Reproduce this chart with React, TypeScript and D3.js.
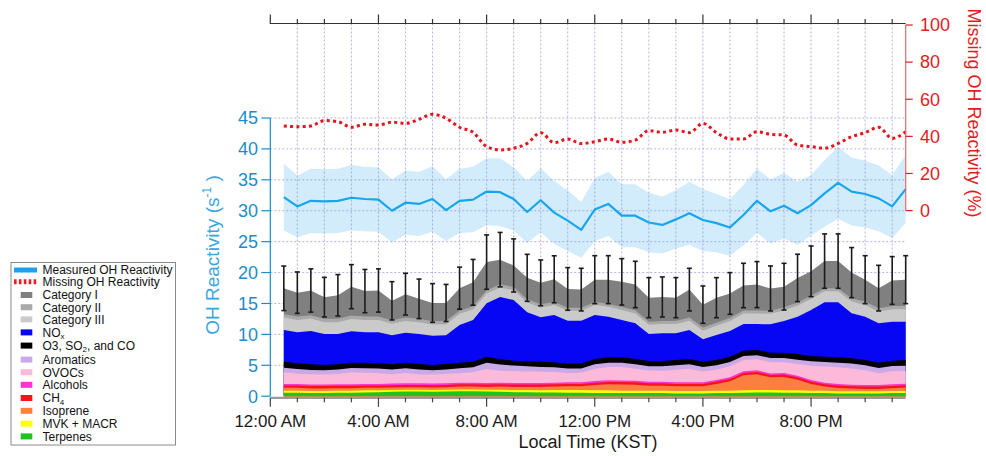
import React from "react";
import * as d3 from "d3";

// Half-hourly diurnal means (local time, hours)
const hours = [0.5, 1, 1.5, 2, 2.5, 3, 3.5, 4, 4.5, 5, 5.5, 6, 6.5, 7, 7.5, 8, 8.5, 9, 9.5, 10, 10.5, 11, 11.5, 12, 12.5, 13, 13.5, 14, 14.5, 15, 15.5, 16, 16.5, 17, 17.5, 18, 18.5, 19, 19.5, 20, 20.5, 21, 21.5, 22, 22.5, 23, 23.5];

// Measured OH reactivity (s^-1) and its spread
const measured = [32.2, 30.7, 31.6, 31.5, 31.6, 32.1, 31.9, 31.8, 30.0, 31.3, 31.1, 31.9, 30.1, 31.6, 31.8, 33.1, 33.0, 31.9, 29.8, 31.7, 29.7, 28.4, 26.9, 30.2, 31.1, 29.2, 29.2, 28.1, 27.7, 28.6, 29.6, 28.5, 28.0, 27.3, 29.3, 31.6, 29.9, 30.8, 29.6, 30.9, 32.8, 34.5, 33.1, 32.7, 32.0, 30.7, 33.5];
const measuredSd = [5.4, 5.0, 5.2, 5.2, 5.2, 5.3, 5.2, 5.2, 5.1, 5.2, 5.2, 5.3, 5.0, 5.2, 5.3, 5.4, 5.5, 5.1, 5.0, 5.2, 5.1, 4.9, 4.5, 5.1, 5.2, 5.1, 5.1, 4.8, 4.6, 4.7, 5.1, 5.0, 4.7, 4.6, 4.9, 5.2, 5.2, 5.3, 5.1, 4.9, 5.4, 5.8, 5.5, 5.4, 5.3, 5.1, 5.5];

// Missing OH reactivity (%)
const missing = [45.6, 45.2, 45.6, 48.5, 47.9, 44.9, 46.5, 46.1, 47.6, 47.0, 49.2, 51.9, 49.7, 44.9, 42.2, 34.5, 32.7, 33.6, 36.2, 42.0, 36.6, 38.6, 36.1, 37.1, 38.6, 36.8, 38.0, 43.1, 42.2, 43.4, 42.0, 47.0, 42.0, 38.6, 38.6, 42.5, 41.1, 40.7, 35.3, 34.5, 33.6, 36.2, 39.8, 42.0, 44.9, 38.9, 42.5];

// Calculated OH reactivity contributions (s^-1)
const terpenes = [0.55, 0.55, 0.5, 0.5, 0.55, 0.55, 0.6, 0.65, 0.7, 0.75, 0.75, 0.7, 0.75, 0.8, 0.8, 0.75, 0.7, 0.65, 0.65, 0.6, 0.6, 0.55, 0.55, 0.5, 0.5, 0.5, 0.5, 0.5, 0.5, 0.45, 0.45, 0.45, 0.5, 0.5, 0.55, 0.6, 0.6, 0.55, 0.55, 0.5, 0.5, 0.45, 0.45, 0.45, 0.45, 0.5, 0.5];
const mvkMacr = [0.35, 0.35, 0.35, 0.35, 0.35, 0.35, 0.35, 0.3, 0.3, 0.3, 0.3, 0.3, 0.3, 0.3, 0.3, 0.3, 0.35, 0.35, 0.35, 0.35, 0.4, 0.45, 0.45, 0.45, 0.45, 0.4, 0.4, 0.4, 0.4, 0.4, 0.4, 0.4, 0.4, 0.4, 0.4, 0.4, 0.4, 0.4, 0.4, 0.4, 0.4, 0.35, 0.35, 0.35, 0.35, 0.35, 0.35];
const isoprene = [0.45, 0.45, 0.4, 0.4, 0.4, 0.4, 0.4, 0.4, 0.4, 0.4, 0.4, 0.4, 0.4, 0.45, 0.45, 0.45, 0.5, 0.5, 0.5, 0.55, 0.55, 0.6, 0.6, 0.85, 0.97, 1.0, 0.97, 0.81, 0.81, 0.76, 0.76, 0.76, 1.08, 1.51, 2.43, 2.54, 2.05, 2.16, 1.73, 1.08, 0.65, 0.54, 0.43, 0.38, 0.38, 0.43, 0.54];
const ch4 = [0.38, 0.38, 0.38, 0.38, 0.38, 0.38, 0.38, 0.38, 0.38, 0.38, 0.38, 0.38, 0.38, 0.38, 0.38, 0.38, 0.38, 0.38, 0.38, 0.38, 0.38, 0.38, 0.38, 0.38, 0.38, 0.38, 0.38, 0.38, 0.38, 0.38, 0.38, 0.38, 0.38, 0.38, 0.38, 0.38, 0.38, 0.38, 0.38, 0.38, 0.38, 0.38, 0.38, 0.38, 0.38, 0.38, 0.38];
const alcohols = [0.26, 0.26, 0.26, 0.26, 0.26, 0.26, 0.26, 0.26, 0.26, 0.26, 0.26, 0.26, 0.26, 0.26, 0.26, 0.26, 0.26, 0.26, 0.26, 0.26, 0.26, 0.26, 0.26, 0.26, 0.26, 0.26, 0.26, 0.26, 0.26, 0.26, 0.26, 0.26, 0.26, 0.26, 0.26, 0.26, 0.26, 0.26, 0.26, 0.26, 0.26, 0.26, 0.26, 0.26, 0.26, 0.26, 0.26];
const ovocs = [1.88, 1.66, 1.65, 1.61, 1.67, 1.92, 1.82, 1.73, 1.52, 1.67, 1.44, 1.46, 1.49, 1.52, 1.7, 2.24, 1.93, 1.91, 1.85, 1.8, 1.71, 1.51, 1.54, 2.02, 2.17, 2.19, 1.95, 1.79, 1.77, 2.03, 2.19, 1.76, 1.66, 1.79, 1.84, 1.79, 1.81, 1.73, 1.89, 2.3, 2.6, 2.7, 2.62, 2.38, 1.89, 2.11, 2.05];
const aromatics = [0.75, 0.75, 0.7, 0.7, 0.7, 0.72, 0.7, 0.75, 0.75, 0.75, 0.8, 0.7, 0.75, 0.8, 0.78, 1.05, 1.0, 0.9, 0.85, 0.8, 0.78, 0.75, 0.72, 0.7, 0.7, 0.7, 0.7, 0.7, 0.72, 0.72, 0.72, 0.72, 0.72, 0.7, 0.65, 0.65, 0.68, 0.7, 0.7, 0.72, 0.75, 0.75, 0.78, 0.8, 0.86, 0.86, 0.86];
const o3So2Co = [0.97, 0.92, 0.92, 0.85, 0.85, 0.85, 0.92, 0.85, 0.85, 0.92, 0.88, 0.85, 0.88, 0.92, 0.92, 0.97, 0.85, 0.8, 0.8, 0.85, 0.8, 0.75, 0.8, 0.86, 0.86, 0.86, 0.86, 0.86, 0.86, 0.86, 0.86, 0.86, 0.86, 0.86, 0.86, 0.86, 0.86, 0.86, 0.92, 0.86, 0.86, 0.86, 0.86, 0.86, 0.86, 0.86, 0.92];
const nox = [5.12, 5.01, 5.39, 5.01, 4.9, 5.07, 4.9, 5.01, 4.69, 4.85, 4.85, 4.74, 4.64, 6.09, 6.74, 8.62, 10.08, 9.81, 7.93, 7.17, 7.66, 6.97, 6.92, 7.12, 6.58, 6.04, 5.77, 4.36, 4.47, 4.31, 4.69, 3.61, 4.04, 4.15, 4.31, 4.2, 4.58, 5.13, 6.04, 7.44, 8.78, 8.89, 7.28, 7.01, 6.36, 6.31, 6.2];
const cat3 = [2.0, 2.0, 2.0, 1.9, 1.9, 2.0, 2.0, 2.0, 1.9, 1.9, 1.9, 1.8, 1.8, 1.8, 1.7, 1.6, 1.55, 1.6, 1.6, 1.6, 1.6, 1.6, 1.6, 1.6, 1.6, 1.6, 1.6, 1.5, 1.5, 1.5, 1.5, 1.4, 1.5, 1.6, 1.7, 1.7, 1.7, 1.7, 1.8, 1.8, 1.8, 1.8, 1.9, 1.9, 1.9, 2.0, 2.0];
const cat2 = [0.55, 0.55, 0.55, 0.55, 0.55, 0.55, 0.55, 0.55, 0.55, 0.55, 0.55, 0.55, 0.55, 0.5, 0.5, 0.5, 0.5, 0.5, 0.5, 0.5, 0.5, 0.5, 0.5, 0.5, 0.5, 0.5, 0.5, 0.5, 0.5, 0.5, 0.5, 0.5, 0.5, 0.5, 0.5, 0.5, 0.5, 0.5, 0.5, 0.5, 0.5, 0.5, 0.55, 0.55, 0.55, 0.55, 0.55];
const cat1 = [4.19, 3.87, 4.0, 3.51, 3.81, 4.67, 4.12, 4.22, 3.13, 3.78, 3.24, 2.94, 2.88, 3.66, 3.89, 4.57, 3.99, 3.49, 3.48, 3.48, 3.67, 3.03, 2.92, 3.61, 3.88, 4.07, 4.18, 3.88, 3.88, 3.77, 4.53, 3.71, 4.04, 3.97, 4.03, 4.17, 3.61, 3.35, 3.96, 3.96, 4.37, 4.37, 4.13, 3.53, 3.24, 4.11, 4.24];
// Uncertainty of the calculated total (s^-1)
const calcError = [3.6, 3.35, 3.5, 3.2, 3.35, 3.56, 3.5, 3.5, 3.1, 3.37, 3.2, 3.13, 3.0, 3.4, 3.7, 4.4, 4.4, 4.3, 3.8, 3.7, 3.8, 3.45, 3.45, 3.88, 3.88, 3.75, 3.75, 3.24, 3.24, 3.24, 3.45, 3.02, 3.24, 3.37, 3.59, 3.72, 3.64, 3.78, 3.83, 4.1, 4.4, 4.4, 4.05, 3.88, 3.69, 3.86, 3.88];

// Axis ticks
const xTickHours = [0, 4, 8, 12, 16, 20];
const xTickLabels = ["12:00 AM", "4:00 AM", "8:00 AM", "12:00 PM", "4:00 PM", "8:00 PM"];
const leftTicks = [0, 5, 10, 15, 20, 25, 30, 35, 40, 45];
const rightTicks = [0, 20, 40, 60, 80, 100];

// Stack layers, bottom to top
const layerKeys = ["terpenes", "mvk", "isoprene", "ch4", "alcohols", "ovocs", "aromatics", "o3", "nox", "cat3", "cat2", "cat1"];
const layerValues: Record<string, number[]> = {
  terpenes, mvk: mvkMacr, isoprene, ch4, alcohols, ovocs, aromatics, o3: o3So2Co, nox, cat3, cat2, cat1,
};
const layerColors: Record<string, string> = {
  terpenes: "#1fc21f",
  mvk: "#ffff0a",
  isoprene: "#fb8040",
  ch4: "#f5141c",
  alcohols: "#ff34cf",
  ovocs: "#fdb9d9",
  aromatics: "#c9a9e6",
  o3: "#000000",
  nox: "#0606f4",
  cat3: "#cacaca",
  cat2: "#a9a9a9",
  cat1: "#808080",
};

const FONT = "'Liberation Sans', Arial, Helvetica, sans-serif";
const BLUE_AXIS = "#1b8dcc";
const RED_AXIS = "#e31b23";

// legend row centres; rows after subscripted labels sit a little lower
const legendRowY = [270, 281.8, 295, 307.2, 319.4, 332.4, 345.6, 359.6, 372.2, 384.8, 398, 410.8, 423.6, 436.4];

export default function App() {
  const x = d3.scaleLinear().domain([0, 23.5]).range([270.3, 905.7]);
  const yL = d3.scaleLinear().domain([0, 45]).range([396.2, 118]);
  const yR = d3.scaleLinear().domain([0, 100]).range([210.6, 25]);

  const rows = hours.map((h, i) => {
    const r: any = { h };
    layerKeys.forEach((k) => (r[k] = layerValues[k][i]));
    return r;
  });
  const series = d3.stack<any>().keys(layerKeys)(rows);

  // each layer filled from zero up to its cumulative top, drawn top layer first
  const cumArea = d3
    .area<any>()
    .x((d) => x(d.data.h))
    .y0(yL(0))
    .y1((d) => yL(d[1]));

  const totals = series[series.length - 1].map((d) => d[1]);

  const band = d3
    .area<number>()
    .x((_, i) => x(hours[i]))
    .y0((d, i) => yL(d - measuredSd[i]))
    .y1((d, i) => yL(d + measuredSd[i]));
  const measLine = d3
    .line<number>()
    .x((_, i) => x(hours[i]))
    .y((d) => yL(d));
  const missLine = d3
    .line<number>()
    .x((_, i) => x(hours[i]))
    .y((d) => yR(d))
    .curve(d3.curveMonotoneX);

  const hourTicks = d3.range(0, 24);
  const topY = 23.5;
  const bottomY = 397.8;

  const legendItems = [
    { kind: "line", color: "#1e9ff0", label: ["Measured OH Reactivity"] },
    { kind: "dash", color: "#ee1c24", label: ["Missing OH Reactivity"] },
    { kind: "box", color: layerColors.cat1, label: ["Category I"] },
    { kind: "box", color: layerColors.cat2, label: ["Category II"] },
    { kind: "box", color: layerColors.cat3, label: ["Category III"] },
    { kind: "box", color: layerColors.nox, label: ["NO", "x"] },
    { kind: "box", color: layerColors.o3, label: ["O3, SO", "2", ", and CO"] },
    { kind: "box", color: layerColors.aromatics, label: ["Aromatics"] },
    { kind: "box", color: layerColors.ovocs, label: ["OVOCs"] },
    { kind: "box", color: layerColors.alcohols, label: ["Alcohols"] },
    { kind: "box", color: layerColors.ch4, label: ["CH", "4"] },
    { kind: "box", color: layerColors.isoprene, label: ["Isoprene"] },
    { kind: "box", color: layerColors.mvk, label: ["MVK + MACR"] },
    { kind: "box", color: layerColors.terpenes, label: ["Terpenes"] },
  ];

  // alternate parts of a label are set as subscripts
  const renderLabel = (parts: string[]) =>
    parts.map((p, j) =>
      j % 2 === 1 ? (
        <tspan key={j} fontSize="8" dy="2.5">
          {p}
        </tspan>
      ) : j > 0 ? (
        <tspan key={j} dy="-2.5">
          {p}
        </tspan>
      ) : (
        <tspan key={j}>{p}</tspan>
      )
    );

  return (
    <svg
      width={986}
      height={456}
      viewBox="0 0 986 456"
      style={{ position: "absolute", left: 0, top: 0, background: "#fff" }}
      fontFamily={FONT}
    >
      <rect x={0} y={0} width={986} height={456} fill="#fff" />

      {/* measured reactivity spread */}
      <path d={band(measured) || ""} fill="#d3ecfb" />

      {/* grid */}
      <g stroke="#8e8ed2" strokeWidth={0.9} strokeDasharray="2 2" opacity={0.75}>
        {hourTicks.slice(1).map((h) => (
          <line key={"v" + h} x1={x(h)} x2={x(h)} y1={topY} y2={bottomY} />
        ))}
        {leftTicks.slice(1).map((v) => (
          <line key={"h" + v} x1={x(0)} x2={x(23.5)} y1={yL(v)} y2={yL(v)} />
        ))}
      </g>

      {/* bottom axis line */}
      <line x1={x(0)} x2={x(23.5)} y1={bottomY} y2={bottomY} stroke="#9a9a9a" strokeWidth={2.2} />

      {/* calculated reactivity stack */}
      {series
        .slice()
        .reverse()
        .map((s) => (
          <path key={s.key} d={cumArea(s as any) || ""} fill={layerColors[s.key]} />
        ))}

      {/* error bars on calculated total */}
      <g stroke="#1b1b1b" strokeWidth={1.6}>
        {hours.map((h, i) => {
          const cx = x(h);
          const y1 = yL(totals[i] + calcError[i]);
          const y2 = yL(totals[i] - calcError[i]);
          return (
            <g key={"e" + i}>
              <line x1={cx} x2={cx} y1={y1} y2={y2} />
              <line x1={cx - 2.5} x2={cx + 2.5} y1={y1} y2={y1} />
              <line x1={cx - 2.5} x2={cx + 2.5} y1={y2} y2={y2} />
            </g>
          );
        })}
      </g>

      {/* measured and missing reactivity */}
      <path d={measLine(measured) || ""} fill="none" stroke="#17a6ee" strokeWidth={2.2} strokeLinejoin="round" />
      <path d={missLine(missing) || ""} fill="none" stroke="#e8141c" strokeWidth={3} strokeDasharray="3 3.3" />

      {/* top axis */}
      <g stroke="#333" strokeWidth={1.2}>
        <line x1={x(0) - 0.5} x2={x(23.5)} y1={topY} y2={topY} />
        {hourTicks.map((h) => (
          <line key={"t" + h} x1={x(h)} x2={x(h)} y1={topY} y2={topY - (h % 4 === 0 ? 9 : 4.5)} />
        ))}
      </g>

      {/* bottom axis ticks and labels */}
      <g stroke="#444" strokeWidth={1.2}>
        {hourTicks.map((h) => (
          <line key={"b" + h} x1={x(h)} x2={x(h)} y1={bottomY} y2={bottomY + (h % 4 === 0 ? 9 : 4.5)} />
        ))}
      </g>
      {xTickHours.map((h, i) => (
        <text key={"xl" + h} x={x(h)} y={427} textAnchor="middle" fontSize={17} fill="#1a1a1a">
          {xTickLabels[i]}
        </text>
      ))}
      <text x={(x(0) + x(23.5)) / 2} y={448} textAnchor="middle" fontSize={18} fill="#1a1a1a">
        Local Time (KST)
      </text>

      {/* left axis */}
      <line x1={x(0)} x2={x(0)} y1={yL(45)} y2={yL(0)} stroke={BLUE_AXIS} strokeWidth={1.2} />
      {leftTicks.map((v) => (
        <g key={"l" + v}>
          <line x1={x(0) - 9} x2={x(0)} y1={yL(v)} y2={yL(v)} stroke={BLUE_AXIS} strokeWidth={1.2} />
          <text x={258} y={yL(v) + 6.3} textAnchor="end" fontSize={18} fill={BLUE_AXIS}>
            {v}
          </text>
        </g>
      ))}
      <text transform="translate(219,255) rotate(-90)" textAnchor="middle" fontSize={19} fill="#3aa6dd">
        <tspan>OH Reactivity (s</tspan>
        <tspan fontSize={12} dy={-8}>-1</tspan>
        <tspan dy={8}> )</tspan>
      </text>

      {/* right axis */}
      <line x1={x(23.5)} x2={x(23.5)} y1={yR(100)} y2={yR(0)} stroke="#e06a6e" strokeWidth={1.2} />
      {rightTicks.map((v) => (
        <g key={"r" + v}>
          <line x1={x(23.5)} x2={x(23.5) + 7} y1={yR(v)} y2={yR(v)} stroke={RED_AXIS} strokeWidth={1.2} />
          <text x={920} y={yR(v) + 6.3} textAnchor="start" fontSize={18} fill={RED_AXIS}>
            {v}
          </text>
        </g>
      ))}
      <text transform="translate(968,113) rotate(90)" textAnchor="middle" fontSize={18} fill={RED_AXIS}>
        Missing OH Reactivity (%)
      </text>

      {/* legend */}
      <rect x={11} y={262.5} width={164.5} height={182.5} fill="#fff" stroke="#8a8a8a" strokeWidth={1} />
      {legendItems.map((it, i) => {
        const cy = legendRowY[i];
        return (
          <g key={"lg" + i}>
            {it.kind === "line" && <rect x={14} y={cy - 2.5} width={23} height={5} fill={it.color} />}
            {it.kind === "dash" && (
              <line x1={14} x2={37} y1={cy} y2={cy} stroke={it.color} strokeWidth={5} strokeDasharray="2.6 2.3" />
            )}
            {it.kind === "box" && <rect x={20.7} y={cy - 3} width={11.6} height={6} fill={it.color} />}
            <text x={42.5} y={cy + 4.3} fontSize={12} fill="#111">
              {renderLabel(it.label)}
            </text>
          </g>
        );
      })}
    </svg>
  );
}
